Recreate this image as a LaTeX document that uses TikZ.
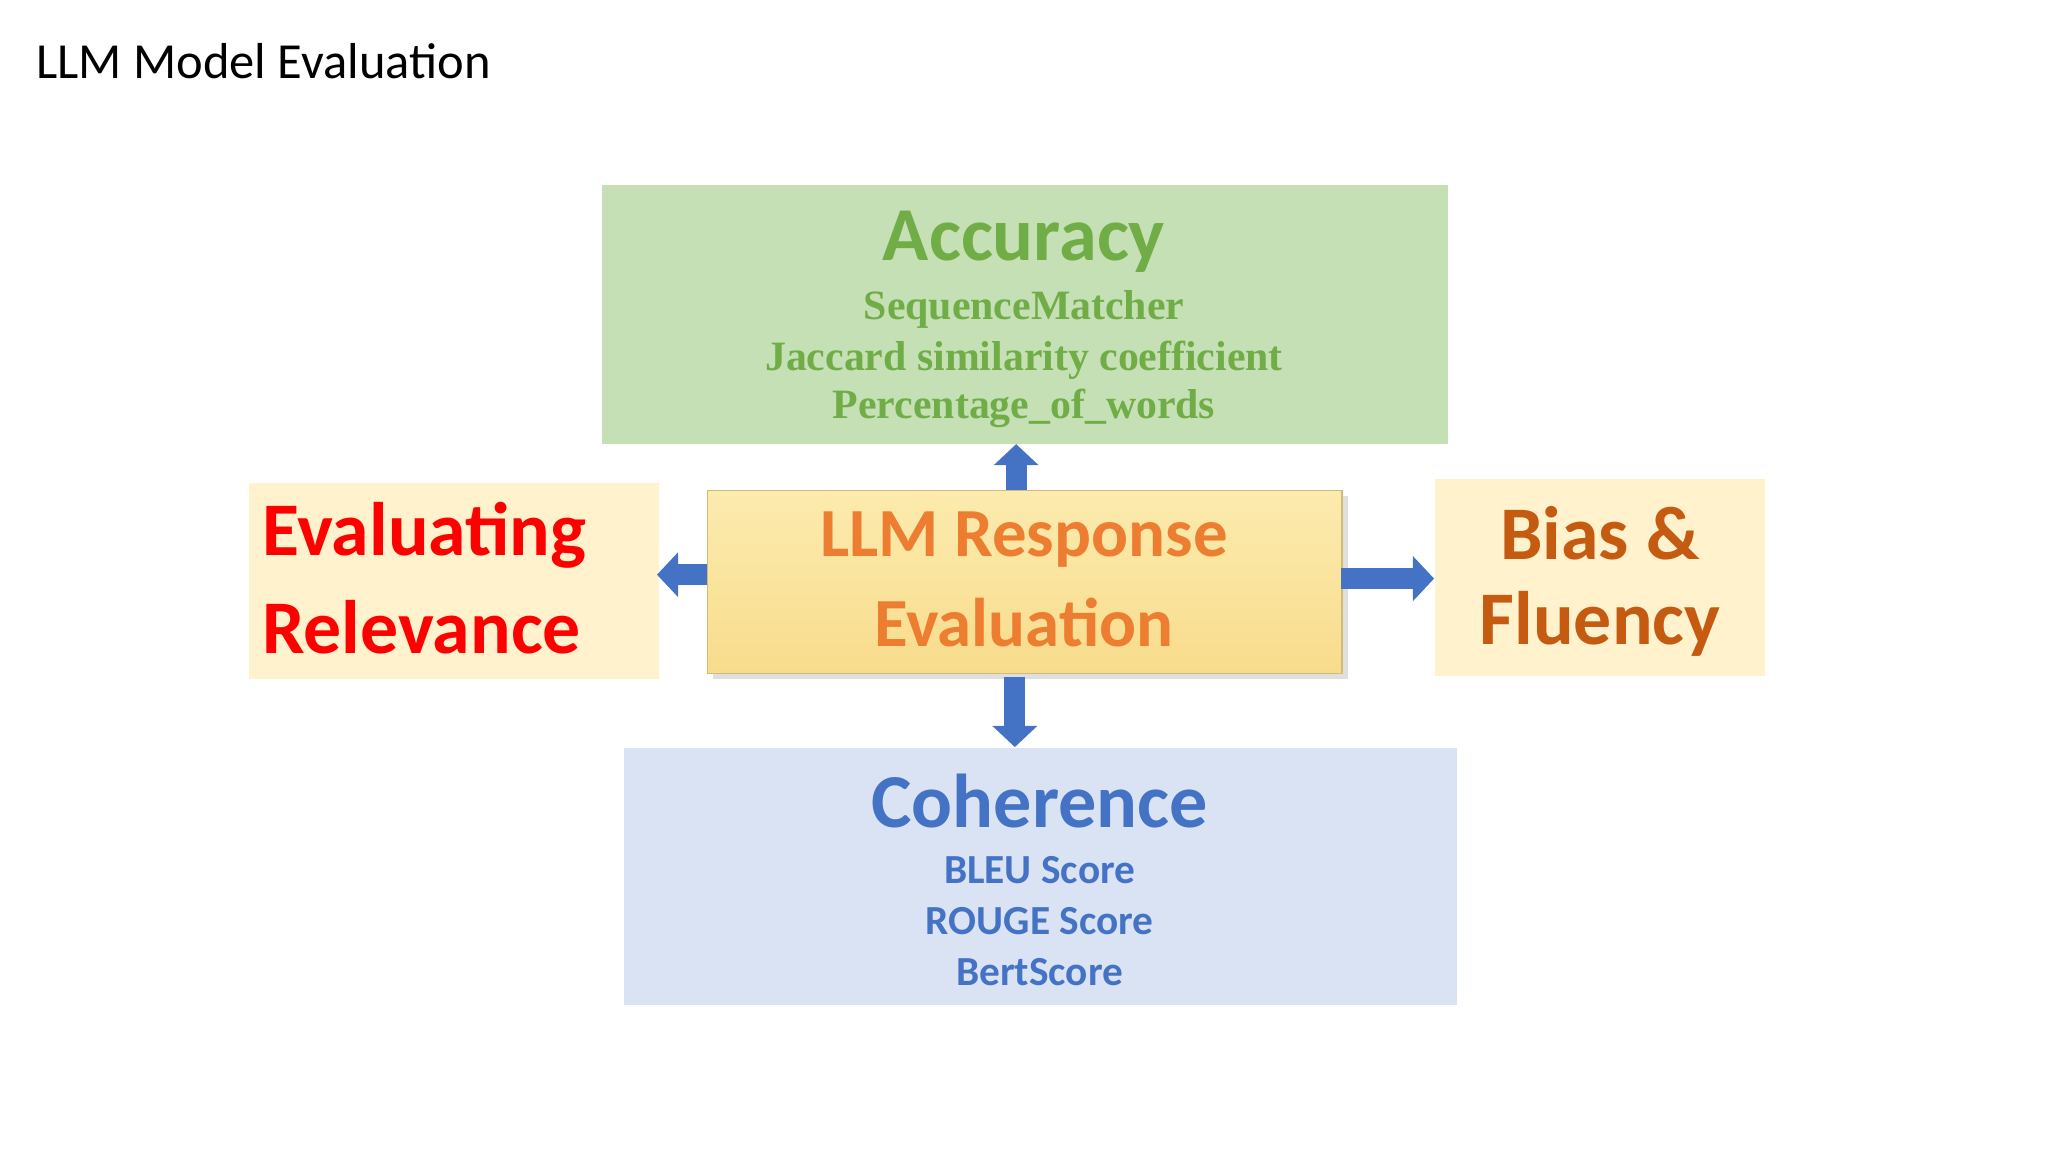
\documentclass[tikz,border=0pt]{standalone}
\usepackage{fontspec}
\setmainfont{Carlito}
\newfontfamily\serifb{Liberation Serif}
\usetikzlibrary{arrows.meta,shadows}
\definecolor{gfill}{HTML}{C5E0B4}
\definecolor{gtxt}{HTML}{70AD47}
\definecolor{yfill}{HTML}{FFF2CC}
\definecolor{ytop}{HTML}{FCEBAE}
\definecolor{ybot}{HTML}{F8DC8C}
\definecolor{bfill}{HTML}{DAE3F3}
\definecolor{btxt}{HTML}{4472C4}
\definecolor{otxt}{HTML}{ED7D31}
\definecolor{dtxt}{HTML}{C55A11}
\definecolor{rtxt}{HTML}{FF0000}
\begin{document}
\begin{tikzpicture}[x=0.01cm,y=-0.01cm,
  box/.style={draw=none,inner sep=0,anchor=north west},
  big/.style={font=\fontsize{16.6}{19}\selectfont\bfseries},
  mid/.style={font=\fontsize{16.5}{20}\selectfont\bfseries},
  cen/.style={font=\fontsize{15}{18}\selectfont\bfseries},
  small/.style={font=\fontsize{9}{11}\selectfont\bfseries},
  ser/.style={text=gtxt,font=\fontsize{9.1}{11}\serifb\bfseries},
  blk/.style={draw=btxt,line width=4.6pt,-{Triangle[length=4.6pt,width=9.5pt]}}]
\useasboundingbox (0,0) rectangle (1568,882);
\node[anchor=west,inner sep=0,font=\fontsize{11}{13}\selectfont] (title) at (27,47) {LLM Model Evaluation};
% boxes
\node[box,fill=gfill,minimum width=648*0.01cm,minimum height=198*0.01cm] (acc) at (460,141) {};
\node[box,fill=yfill,minimum width=314*0.01cm,minimum height=150*0.01cm] (rel) at (190,369) {};
\node[box,fill=yfill,minimum width=253*0.01cm,minimum height=151*0.01cm] (bias) at (1098,366) {};
\node[box,fill=bfill,minimum width=638*0.01cm,minimum height=197*0.01cm] (coh) at (477,572) {};
\node[box,top color=ytop,bottom color=ybot,draw=ybot!85!black,line width=0.3pt,
  drop shadow={shadow xshift=1.2pt,shadow yshift=-1.2pt,opacity=.25},
  minimum width=486*0.01cm,minimum height=140*0.01cm] (llm) at (541,375) {};
% texts
\node[big,text=gtxt] (acct) at (784,185) {Accuracy};
\node[ser] (a1) at (784,237) {SequenceMatcher};
\node[ser] (a2) at (784,276) {Jaccard similarity coefficient};
\node[ser] (a3) at (784,313) {Percentage\_of\_words};
\node[cen,text=otxt] (l1) at (784,413) {LLM Response};
\node[cen,text=otxt] (l2) at (784,477) {Evaluation};
\node[mid,text=rtxt,anchor=west,inner sep=0] (r1) at (200,410) {Evaluating};
\node[mid,text=rtxt,anchor=west,inner sep=0] (r2) at (200,480) {Relevance};
\node[mid,text=dtxt] (b1) at (1225,408) {Bias \&};
\node[mid,text=dtxt] (b2) at (1225,478) {Fluency};
\node[big,text=btxt] (ct) at (796,613) {Coherence};
\node[small,text=btxt] (c1) at (796,666) {BLEU Score};
\node[small,text=btxt] (c2) at (796,705) {ROUGE Score};
\node[small,text=btxt] (c3) at (796,744) {BertScore};
% arrows
\coordinate (u0) at (778,375); \coordinate (u1) at (778,340);
\coordinate (d0) at (777,518); \coordinate (d1) at (777,572);
\coordinate (w0) at (541,440); \coordinate (w1) at (503,440);
\coordinate (e0) at (1027,443); \coordinate (e1) at (1098,443);
\draw[blk] (u0) -- (u1);
\draw[blk] (d0) -- (d1);
\draw[blk] (w0) -- (w1);
\draw[blk] (e0) -- (e1);
\end{tikzpicture}
\end{document}
